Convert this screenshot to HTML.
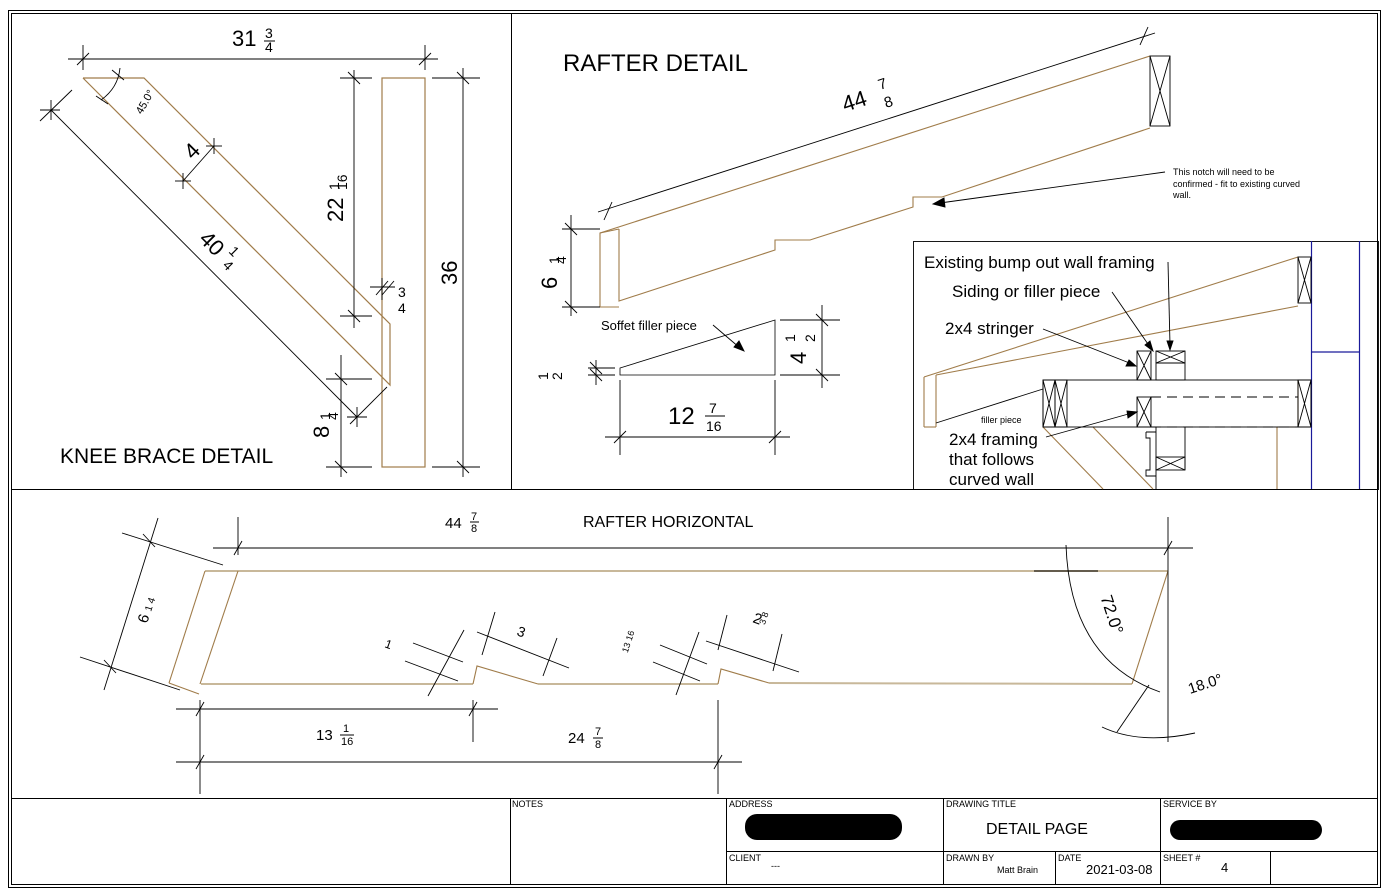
<!DOCTYPE html>
<html><head><meta charset="utf-8"><style>
html,body{margin:0;padding:0;background:#fff;}
svg{display:block;font-family:"Liberation Sans",Arial,sans-serif;}
</style></head><body>
<svg width="1390" height="896" viewBox="0 0 1390 896" xmlns="http://www.w3.org/2000/svg">
<g fill="none" stroke="#000" stroke-width="1">
<rect x="8.5" y="10.5" width="1372" height="877"/>
<rect x="11.5" y="13.5" width="1366" height="871"/>
<line x1="11" y1="489.5" x2="1378" y2="489.5"/>
<line x1="511.5" y1="13" x2="511.5" y2="489"/>
<line x1="11" y1="798.5" x2="1378" y2="798.5"/>
<line x1="510.5" y1="798" x2="510.5" y2="884"/>
<line x1="726.5" y1="798" x2="726.5" y2="884"/>
<line x1="943.5" y1="798" x2="943.5" y2="884"/>
<line x1="1160.5" y1="798" x2="1160.5" y2="884"/>
<line x1="726" y1="851.5" x2="1378" y2="851.5"/>
<line x1="1055.5" y1="851" x2="1055.5" y2="884"/>
<line x1="1270.5" y1="851" x2="1270.5" y2="884"/>
</g>
<!-- KNEE BRACE -->
<g fill="none" stroke="#a07c4a" stroke-width="1.2">
<polyline points="83,78 144,78 390,324 390,385 83,78"/>
<rect x="382" y="78" width="43" height="389"/>
</g>
<g fill="none" stroke="#000" stroke-width="0.9">
<line x1="68" y1="59" x2="438" y2="59"/>
<line x1="83" y1="45" x2="83" y2="70"/><line x1="77" y1="65" x2="89" y2="53"/>
<line x1="425" y1="45" x2="425" y2="70"/><line x1="419" y1="65" x2="431" y2="53"/>
<line x1="354" y1="70" x2="354" y2="328"/><line x1="340" y1="78" x2="372" y2="78"/><line x1="340" y1="316" x2="372" y2="316"/>
<line x1="348" y1="72" x2="360" y2="84"/><line x1="348" y1="310" x2="360" y2="322"/>
<line x1="463" y1="68" x2="463" y2="477"/><line x1="432" y1="78" x2="480" y2="78"/><line x1="432" y1="467" x2="480" y2="467"/>
<line x1="457" y1="72" x2="469" y2="84"/><line x1="457" y1="461" x2="469" y2="473"/>
<line x1="341" y1="355" x2="341" y2="477"/><line x1="326" y1="379" x2="372" y2="379"/><line x1="326" y1="467" x2="372" y2="467"/>
<line x1="335" y1="373" x2="347" y2="385"/><line x1="335" y1="461" x2="347" y2="473"/>
<line x1="51" y1="110" x2="357" y2="417"/><line x1="40" y1="110" x2="60" y2="110"/><line x1="51" y1="100" x2="51" y2="120"/>
<line x1="72" y1="90" x2="40" y2="121"/><line x1="387" y1="387" x2="350" y2="424"/><line x1="347" y1="417" x2="367" y2="417"/><line x1="357" y1="407" x2="357" y2="427"/>
<line x1="183" y1="181" x2="214" y2="146"/><line x1="175" y1="181" x2="191" y2="181"/><line x1="183" y1="173" x2="183" y2="189"/><line x1="206" y1="146" x2="222" y2="146"/><line x1="214" y1="138" x2="214" y2="154"/>
<path d="M101,100 Q118,88 120,68"/><line x1="96" y1="96" x2="108" y2="104"/><line x1="112" y1="70" x2="124" y2="80"/>
<line x1="370" y1="287" x2="395" y2="287"/><line x1="376" y1="295" x2="388" y2="281"/><line x1="382" y1="295" x2="394" y2="281"/><line x1="382" y1="278" x2="382" y2="300"/>
</g>
<g font-size="22" fill="#000">
<text x="232" y="46">31</text>
<text x="198" y="240" transform="rotate(45 198 240)">40</text>
<text x="186" y="160" transform="rotate(-45 190 152)">4</text>
<text x="343" y="222" transform="rotate(-90 343 222)">22</text>
<text x="457" y="285" transform="rotate(-90 457 285)">36</text>
<text x="329" y="438" transform="rotate(-90 329 438)">8</text>
</g>
<g font-size="14" fill="#000">
<text x="265" y="38">3</text><line x1="264" y1="41" x2="275" y2="41" stroke="#000"/><text x="265" y="52">4</text>
<text x="339" y="190" transform="rotate(-90 339 190)">1</text>
<text x="347" y="190" transform="rotate(-90 347 190)">16</text>
<text x="330" y="420" transform="rotate(-90 330 420)">1</text>
<text x="338" y="420" transform="rotate(-90 338 420)">4</text>
<text x="398" y="297">3</text><text x="398" y="313">4</text>
<text x="228" y="252" transform="rotate(45 228 252)">1</text>
<text x="222" y="266" transform="rotate(45 222 266)">4</text>
</g>
<text x="129" y="113" font-size="11" transform="rotate(-60 137 103)">45.0°</text>
<text x="60" y="463" font-size="21">KNEE BRACE DETAIL</text>
<!-- RAFTER DETAIL -->
<text x="563" y="71" font-size="24">RAFTER DETAIL</text>
<g fill="none" stroke="#a07c4a" stroke-width="1.1">
<polyline points="600,307 600,233 1150,56"/>
<polyline points="619,229 619,301 775,250 775,240 810,240 913,207 913,197 942,197 1150,128"/>
<line x1="600" y1="307" x2="619" y2="307"/><line x1="600" y1="233" x2="619" y2="229"/>
<polygon points="620,368 775,320 775,375 620,375" stroke="#000" stroke-width="0.8"/>
</g>
<g fill="none" stroke="#000" stroke-width="0.9">
<rect x="1150" y="56" width="20" height="70"/><line x1="1150" y1="56" x2="1170" y2="126"/><line x1="1170" y1="56" x2="1150" y2="126"/>
<line x1="598" y1="212" x2="1155" y2="33"/><line x1="604" y1="220" x2="612" y2="202"/><line x1="1140" y1="45" x2="1148" y2="27"/>
<line x1="571" y1="215" x2="571" y2="316"/><line x1="562" y1="229" x2="600" y2="229"/><line x1="562" y1="307" x2="600" y2="307"/>
<line x1="565" y1="223" x2="577" y2="235"/><line x1="565" y1="301" x2="577" y2="313"/>
<line x1="1165" y1="172" x2="940" y2="203"/><polygon points="933,204 944,198 945,207" fill="#000"/>
<line x1="713" y1="325" x2="740" y2="348"/><polygon points="744,351 734,347 739,341" fill="#000"/>
<line x1="822" y1="305" x2="822" y2="388"/><line x1="780" y1="320" x2="840" y2="320"/><line x1="780" y1="375" x2="840" y2="375"/>
<line x1="816" y1="314" x2="828" y2="326"/><line x1="816" y1="369" x2="828" y2="381"/>
<line x1="596" y1="360" x2="596" y2="385"/><line x1="588" y1="368" x2="615" y2="368"/><line x1="588" y1="375" x2="615" y2="375"/>
<line x1="590" y1="362" x2="602" y2="374"/><line x1="590" y1="369" x2="602" y2="381"/>
<line x1="605" y1="437" x2="790" y2="437"/><line x1="620" y1="380" x2="620" y2="455"/><line x1="775" y1="380" x2="775" y2="455"/>
<line x1="614" y1="443" x2="626" y2="431"/><line x1="769" y1="443" x2="781" y2="431"/>
</g>
<text x="845" y="112" font-size="22" transform="rotate(-18 845 112)">44</text>
<text x="880" y="90" font-size="15" transform="rotate(-18 880 90)">7</text>
<text x="886" y="108" font-size="15" transform="rotate(-18 886 108)">8</text>
<text x="557" y="289" font-size="22" transform="rotate(-90 557 289)">6</text>
<text x="559" y="264" font-size="14" transform="rotate(-90 559 264)">1</text>
<text x="566" y="264" font-size="14" transform="rotate(-90 566 264)">4</text>
<text x="1173" y="175" font-size="9">This notch will need to be</text>
<text x="1173" y="187" font-size="9">confirmed - fit to existing curved</text>
<text x="1173" y="198" font-size="9">wall.</text>
<text x="601" y="330" font-size="13">Soffet filler piece</text>
<text x="806" y="364" font-size="22" transform="rotate(-90 806 364)">4</text>
<text x="795" y="342" font-size="14" transform="rotate(-90 795 342)">1</text>
<text x="815" y="342" font-size="14" transform="rotate(-90 815 342)">2</text>
<text x="548" y="380" font-size="14" transform="rotate(-90 548 380)">1</text>
<text x="562" y="380" font-size="14" transform="rotate(-90 562 380)">2</text>
<text x="668" y="424" font-size="24">12</text>
<text x="709" y="413" font-size="14">7</text><line x1="705" y1="416" x2="725" y2="416" stroke="#000"/><text x="706" y="431" font-size="14">16</text>
<!-- INSET -->
<g fill="none" stroke="#000" stroke-width="0.9">
<rect x="913.5" y="241.5" width="465" height="248"/>
</g>
<g stroke="#1a1a9a" stroke-width="1.2">
<line x1="1311.5" y1="241" x2="1311.5" y2="489"/><line x1="1359.5" y1="241" x2="1359.5" y2="489"/><line x1="1311" y1="352" x2="1360" y2="352"/>
</g>
<g fill="none" stroke="#a07c4a" stroke-width="1.1">
<line x1="924" y1="377" x2="1298" y2="257"/><line x1="936" y1="375" x2="1298" y2="306"/>
<line x1="924" y1="377" x2="924" y2="427"/><line x1="936" y1="375" x2="936" y2="427"/><line x1="924" y1="427" x2="936" y2="427"/>
<line x1="1298" y1="380" x2="1298" y2="427"/>
<line x1="1043" y1="427" x2="1103" y2="489"/><line x1="1093" y1="427" x2="1153" y2="489"/>
<line x1="1277" y1="427" x2="1277" y2="489"/><line x1="1277" y1="427" x2="1311" y2="427"/>
</g>
<g fill="none" stroke="#000" stroke-width="0.9">
<rect x="1298" y="257" width="13" height="46"/><line x1="1298" y1="257" x2="1311" y2="303"/><line x1="1311" y1="257" x2="1298" y2="303"/>
<rect x="1043" y="380" width="268" height="47"/>
<rect x="1043" y="380" width="12" height="47"/><line x1="1043" y1="380" x2="1055" y2="427"/><line x1="1055" y1="380" x2="1043" y2="427"/>
<rect x="1055" y="380" width="12" height="47"/><line x1="1055" y1="380" x2="1067" y2="427"/><line x1="1067" y1="380" x2="1055" y2="427"/>
<rect x="1298" y="380" width="13" height="47"/><line x1="1298" y1="380" x2="1311" y2="427"/><line x1="1311" y1="380" x2="1298" y2="427"/>
<line x1="936" y1="423" x2="1043" y2="389"/>
<rect x="1137" y="351" width="14" height="29"/><line x1="1137" y1="351" x2="1151" y2="380"/><line x1="1151" y1="351" x2="1137" y2="380"/>
<rect x="1156" y="351" width="29" height="29"/><line x1="1156" y1="363" x2="1185" y2="363"/><line x1="1156" y1="351" x2="1185" y2="363"/><line x1="1185" y1="351" x2="1156" y2="363"/>
<rect x="1137" y="397" width="14" height="30"/><line x1="1137" y1="397" x2="1151" y2="427"/><line x1="1151" y1="397" x2="1137" y2="427"/>
<line x1="1151" y1="397" x2="1298" y2="397" stroke-dasharray="10,6"/><line x1="1151" y1="427" x2="1298" y2="427" stroke-dasharray="10,6"/>
<line x1="1156" y1="427" x2="1156" y2="489"/><line x1="1185" y1="427" x2="1185" y2="470"/>
<rect x="1156" y="457" width="29" height="13"/><line x1="1156" y1="457" x2="1185" y2="470"/><line x1="1185" y1="457" x2="1156" y2="470"/>
<path d="M1146,432 H1156 M1146,432 V438 H1150 V470 H1146 V476 H1156"/>
<line x1="1168" y1="262" x2="1170" y2="345"/><polygon points="1170,350 1167,341 1173,341" fill="#000"/>
<line x1="1112" y1="292" x2="1150" y2="347"/><polygon points="1153,351 1145,345 1150,341" fill="#000"/>
<line x1="1043" y1="329" x2="1132" y2="364"/><polygon points="1136,366 1126,366 1129,360" fill="#000"/>
<line x1="1046" y1="437" x2="1132" y2="413"/><polygon points="1137,412 1128,418 1127,411" fill="#000"/>
</g>
<g font-size="17">
<text x="924" y="268">Existing bump out wall framing</text>
<text x="952" y="297">Siding or filler piece</text>
<text x="945" y="334">2x4 stringer</text>
<text x="949" y="445">2x4 framing</text>
<text x="949" y="465">that follows</text>
<text x="949" y="485">curved wall</text>
</g>
<text x="981" y="423" font-size="9">filler piece</text>
<!-- RAFTER HORIZONTAL -->
<text x="583" y="527" font-size="16">RAFTER HORIZONTAL</text>
<g fill="none" stroke="#c8b89a" stroke-width="2">
<line x1="205" y1="571" x2="1168" y2="571"/>
<polyline points="201,684 473,684"/><polyline points="538,684 718,684"/><polyline points="769,683 1132,684"/>
</g>
<g fill="none" stroke="#a07c4a" stroke-width="1.1">
<line x1="205" y1="571" x2="169" y2="683"/><line x1="238" y1="571" x2="200" y2="684"/><line x1="169" y1="683" x2="199" y2="694"/>
<polyline points="473,684 477,666 538,684"/><polyline points="718,684 721,669 769,683"/>
<line x1="1168" y1="571" x2="1132" y2="684"/>
</g>
<g fill="none" stroke="#000" stroke-width="0.9">
<line x1="213" y1="548" x2="1193" y2="548"/><line x1="238" y1="517" x2="238" y2="555"/><line x1="1168" y1="517" x2="1168" y2="742"/>
<line x1="234" y1="555" x2="242" y2="541"/><line x1="1164" y1="555" x2="1172" y2="541"/>
<line x1="158" y1="518" x2="104" y2="690"/><line x1="122" y1="533" x2="223" y2="565"/><line x1="80" y1="657" x2="180" y2="690"/>
<line x1="143" y1="534" x2="155" y2="547"/><line x1="104" y1="660" x2="116" y2="673"/>
<line x1="176" y1="709" x2="498" y2="709"/><line x1="200" y1="700" x2="200" y2="794"/><line x1="473" y1="700" x2="473" y2="742"/>
<line x1="196" y1="716" x2="204" y2="702"/><line x1="469" y1="716" x2="477" y2="702"/>
<line x1="176" y1="762" x2="742" y2="762"/><line x1="718" y1="700" x2="718" y2="794"/>
<line x1="196" y1="769" x2="204" y2="755"/><line x1="714" y1="769" x2="722" y2="755"/>
<line x1="464" y1="630" x2="428" y2="696"/><line x1="413" y1="643" x2="463" y2="662"/><line x1="405" y1="661" x2="458" y2="681"/>
<line x1="495" y1="612" x2="482" y2="655"/><line x1="477" y1="632" x2="569" y2="668"/><line x1="557" y1="638" x2="543" y2="676"/>
<line x1="699" y1="632" x2="676" y2="695"/><line x1="660" y1="645" x2="707" y2="664"/><line x1="653" y1="662" x2="700" y2="681"/>
<line x1="727" y1="615" x2="718" y2="650"/><line x1="706" y1="641" x2="799" y2="672"/><line x1="782" y1="634" x2="773" y2="671"/>
<line x1="1034" y1="571" x2="1098" y2="571"/>
<path d="M1066,545 Q1070,660 1160,692"/><path d="M1102,727 Q1140,745 1195,733"/>
<line x1="1149" y1="685" x2="1117" y2="732"/>
</g>
<text x="445" y="528" font-size="15">44</text><text x="471" y="520" font-size="11">7</text><line x1="470" y1="522" x2="479" y2="522" stroke="#000"/><text x="471" y="532" font-size="11">8</text>
<text x="147" y="624" font-size="15" transform="rotate(-72 147 624)">6</text>
<text x="151" y="612" font-size="10" transform="rotate(-72 151 612)">1 4</text>
<text x="316" y="740" font-size="15">13</text><text x="343" y="732" font-size="11">1</text><line x1="340" y1="735" x2="354" y2="735" stroke="#000"/><text x="341" y="745" font-size="11">16</text>
<text x="568" y="743" font-size="15">24</text><text x="595" y="735" font-size="11">7</text><line x1="593" y1="738" x2="603" y2="738" stroke="#000"/><text x="595" y="748" font-size="11">8</text>
<text x="516" y="635" font-size="14" transform="rotate(20 516 635)">3</text>
<text x="384" y="647" font-size="12" transform="rotate(20 384 647)">1</text>
<text x="618" y="650" font-size="9" transform="rotate(-72 625 645)">13 16</text>
<text x="752" y="622" font-size="15" transform="rotate(20 752 622)">2</text>
<text x="764" y="620" font-size="9" transform="rotate(-72 768 622)">3 8</text>
<text x="1084" y="600" font-size="17" transform="rotate(72 1094 610)">72.0°</text>
<text x="1190" y="694" font-size="15" transform="rotate(-18 1190 694)">18.0°</text>
<!-- TITLE BLOCK -->
<g font-size="9">
<text x="512" y="807">NOTES</text><text x="729" y="807">ADDRESS</text><text x="946" y="807">DRAWING TITLE</text><text x="1163" y="807">SERVICE BY</text>
<text x="729" y="861">CLIENT</text><text x="771" y="869">---</text><text x="946" y="861">DRAWN BY</text><text x="997" y="873">Matt Brain</text>
<text x="1058" y="861">DATE</text><text x="1163" y="861">SHEET #</text>
</g>
<rect x="745" y="814" width="157" height="26" rx="12" fill="#000"/>
<rect x="1170" y="820" width="152" height="20" rx="10" fill="#000"/>
<text x="986" y="834" font-size="16">DETAIL PAGE</text>
<text x="1086" y="874" font-size="13">2021-03-08</text>
<text x="1221" y="872" font-size="13">4</text>
</svg>
</body></html>
